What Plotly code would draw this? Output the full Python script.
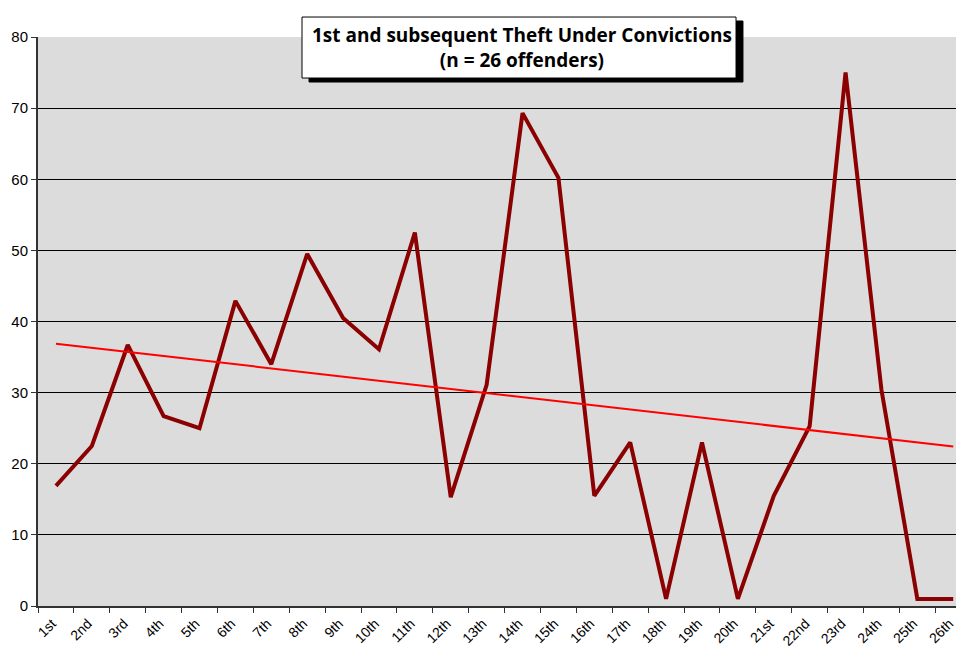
import numpy as np
import plotly.graph_objects as go

categories = ["1st","2nd","3rd","4th","5th","6th","7th","8th","9th","10th","11th","12th","13th",
              "14th","15th","16th","17th","18th","19th","20th","21st","22nd","23rd","24th","25th","26th"]
values = [16.9, 22.5, 36.7, 26.7, 25.0, 42.9, 34.0, 49.5, 40.5, 36.1, 52.5, 15.3, 31.1,
          69.3, 60.2, 15.5, 23.0, 1.0, 23.0, 1.0, 15.5, 25.3, 75.0, 30.4, 1.0, 1.0]
y_ticks = [0, 10, 20, 30, 40, 50, 60, 70, 80]
title_lines = ["1st and subsequent Theft Under Convictions", "(n = 26 offenders)"]

idx = np.arange(len(values))
slope, intercept = np.polyfit(idx, values, 1)
trend = slope * idx + intercept

fig = go.Figure()
fig.add_trace(go.Scatter(x=categories, y=values, mode="lines",
                         line=dict(color="#8B0000", width=4), showlegend=False))
fig.add_trace(go.Scatter(x=categories, y=trend, mode="lines",
                         line=dict(color="#FF0000", width=2), showlegend=False))

# title box (shadow + white box) as shapes in paper coordinates
fig.add_shape(type="rect", xref="paper", yref="paper", layer="above",
              x0=0.2927, x1=0.7613, y0=0.9209, y1=1.0281,
              fillcolor="black", line=dict(color="black", width=1))
fig.add_shape(type="rect", xref="paper", yref="paper", layer="above",
              x0=0.2851, x1=0.7538, y0=0.9279, y1=1.0351,
              fillcolor="white", line=dict(color="black", width=1))
fig.add_annotation(text="<b>" + "<br>".join(title_lines) + "</b>",
                   xref="paper", yref="paper", x=0.5227, y=0.9815,
                   xanchor="center", yanchor="middle", showarrow=False, align="center",
                   font=dict(family="Open Sans", size=19, color="black"))

fig.update_layout(
    width=956, height=643,
    margin=dict(l=30, r=0, t=29, b=45),
    paper_bgcolor="white",
    plot_bgcolor="#dcdcdc",
    font=dict(family="Liberation Sans", size=14, color="black"),
    xaxis=dict(type="category", range=[-0.5, 25.3], tickson="boundaries", automargin=False,
               tickangle=-45, ticks="outside", ticklen=5, tickcolor="#333",
               showline=True, linecolor="#333", linewidth=2, showgrid=False,
               ticklabelshift=-4, ticklabelstandoff=2,
               tickfont=dict(family="Liberation Sans", size=14)),
    yaxis=dict(range=[0, 80], tickvals=y_ticks, ticks="outside", ticklen=5, tickcolor="#333",
               automargin=False,
               showline=True, linecolor="#333", linewidth=2,
               showgrid=True, gridcolor="black", gridwidth=1, zeroline=False,
               tickfont=dict(family="Liberation Sans", size=15)),
)

fig.write_html("out.html")
